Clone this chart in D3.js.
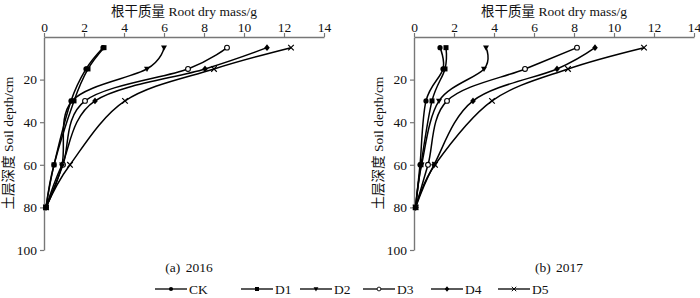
<!DOCTYPE html>
<html>
<head>
<meta charset="utf-8">
<script src="https://cdn.jsdelivr.net/npm/d3@7"></script>
<style>
  body { margin: 0; background: #fff; }
  svg text { font-family: "Liberation Serif", "Times New Roman", "Noto Sans CJK SC", serif; fill: #111; }
</style>
</head>
<body>
<div id="chart"></div>
<script>
var depths = [5, 15, 30, 60, 80];
var seriesNames = ["CK", "D1", "D2", "D3", "D4", "D5"];
var markers = ["dot", "square", "triangle", "circle", "diamond", "cross"];

// root dry mass (g) at each depth, 2016
var mass2016CK = [2.95, 2.1, 1.35, 0.5, 0.1];
var mass2016D1 = [3.0, 2.2, 1.5, 0.5, 0.1];
var mass2016D2 = [6.0, 5.15, 1.4, 0.9, 0.1];
var mass2016D3 = [9.15, 7.2, 2.05, 0.95, 0.1];
var mass2016D4 = [11.15, 8.05, 2.55, 0.9, 0.1];
var mass2016D5 = [12.35, 8.5, 4.05, 1.3, 0.1];

// 2017
var mass2017CK = [1.3, 1.45, 0.6, 0.3, 0.08];
var mass2017D1 = [1.6, 1.55, 0.9, 0.35, 0.08];
var mass2017D2 = [3.6, 3.5, 1.25, 0.38, 0.08];
var mass2017D3 = [8.15, 5.55, 1.65, 0.7, 0.08];
var mass2017D4 = [9.05, 7.15, 2.95, 1.0, 0.08];
var mass2017D5 = [11.5, 7.7, 3.9, 1.05, 0.08];

var xTicks = [0, 2, 4, 6, 8, 10, 12, 14];
var yTicks = [20, 40, 60, 80, 100];
var xTitle = "根干质量 Root dry mass/g";
var yTitle = "土层深度 Soil depth/cm";
var panelCaptions = ["(a) 2016", "(b) 2017"];

var panels = [
    { caption: panelCaptions[0], left: 44, series: [mass2016CK, mass2016D1, mass2016D2, mass2016D3, mass2016D4, mass2016D5] },
    { caption: panelCaptions[1], left: 414, series: [mass2017CK, mass2017D1, mass2017D2, mass2017D3, mass2017D4, mass2017D5] }
];

var W = 700, H = 298;
var plotTop = 37, plotW = 280, plotH = 213;

var svg = d3.select("#chart").append("svg")
    .attr("width", W)
    .attr("height", H);

// draw one marker shape centred at (0,0)
function drawMarker(g, type) {
    if (type === "dot") {
        g.append("circle").attr("r", 2.6).attr("fill", "#000");
    } else if (type === "square") {
        g.append("rect").attr("x", -2.5).attr("y", -2.5).attr("width", 5).attr("height", 5).attr("fill", "#000");
    } else if (type === "triangle") {
        g.append("path").attr("d", "M-3,-2.2L3,-2.2L0,3Z").attr("fill", "#000");
    } else if (type === "circle") {
        g.append("circle").attr("r", 2.4).attr("fill", "#fff").attr("stroke", "#000").attr("stroke-width", 1.1);
    } else if (type === "diamond") {
        g.append("path").attr("d", "M0,-3.4L2.8,0L0,3.4L-2.8,0Z").attr("fill", "#000");
    } else if (type === "cross") {
        g.append("path").attr("d", "M-2.8,-2.8L2.8,2.8M-2.8,2.8L2.8,-2.8").attr("stroke", "#000").attr("stroke-width", 1.2);
    }
}

panels.forEach(function(p) {
    var g = svg.append("g").attr("transform", "translate(" + p.left + "," + plotTop + ")");

    var x = d3.scaleLinear().domain([0, 14]).range([0, plotW]);
    var y = d3.scaleLinear().domain([0, 100]).range([0, plotH]);

    var xAxis = d3.axisTop(x).tickValues(xTicks).tickSize(4).tickPadding(1).tickSizeOuter(0);
    var yAxis = d3.axisLeft(y).tickValues(yTicks).tickSize(4).tickPadding(3).tickSizeOuter(0);

    var gx = g.append("g").call(xAxis);
    var gy = g.append("g").call(yAxis);
    [gx, gy].forEach(function(a) {
        a.selectAll(".domain").attr("stroke", "#777").attr("stroke-width", 1.4);
        a.selectAll(".tick line").attr("stroke", "#777").attr("stroke-width", 1.2);
        a.selectAll("text").attr("font-size", 13.5).attr("fill", "#111")
            .attr("font-family", "Liberation Serif, serif");
    });

    // axis titles
    g.append("text")
        .attr("x", plotW / 2)
        .attr("y", -21)
        .attr("text-anchor", "middle")
        .attr("font-size", 13.5)
        .text(xTitle);

    g.append("text")
        .attr("transform", "translate(-31," + 106 + ") rotate(-90)")
        .attr("text-anchor", "middle")
        .attr("font-size", 13.5)
        .text(yTitle);

    g.append("text")
        .attr("x", plotW / 2 + 5)
        .attr("y", 235)
        .attr("text-anchor", "middle")
        .attr("font-size", 13.5)
        .attr("word-spacing", 2)
        .text(p.caption);

    var line = d3.line()
        .x(function(d) { return x(d.v); })
        .y(function(d) { return y(d.depth); })
        .curve(d3.curveCatmullRom.alpha(0));

    p.series.forEach(function(vals, si) {
        var pts = vals.map(function(v, i) { return { v: v, depth: depths[i] }; });
        g.append("path")
            .datum(pts)
            .attr("fill", "none")
            .attr("stroke", "#000")
            .attr("stroke-width", 1.5)
            .attr("d", line);
    });

    p.series.forEach(function(vals, si) {
        vals.forEach(function(v, i) {
            var m = g.append("g").attr("transform", "translate(" + x(v) + "," + y(depths[i]) + ")");
            drawMarker(m, markers[si]);
        });
    });
});

// legend
var legendX = [155, 241, 300, 363, 431, 498];
var legend = svg.append("g").attr("transform", "translate(0,289)");
seriesNames.forEach(function(name, i) {
    var lg = legend.append("g").attr("transform", "translate(" + legendX[i] + ",0)");
    lg.append("line").attr("x1", 0).attr("x2", 32).attr("y1", 0).attr("y2", 0)
        .attr("stroke", "#000").attr("stroke-width", 1.3);
    var m = lg.append("g").attr("transform", "translate(16,0) scale(0.8)");
    drawMarker(m, markers[i]);
    lg.append("text").attr("x", 34).attr("y", 5)
        .attr("font-size", 13.5)
        .text(name);
});
</script>
</body>
</html>
